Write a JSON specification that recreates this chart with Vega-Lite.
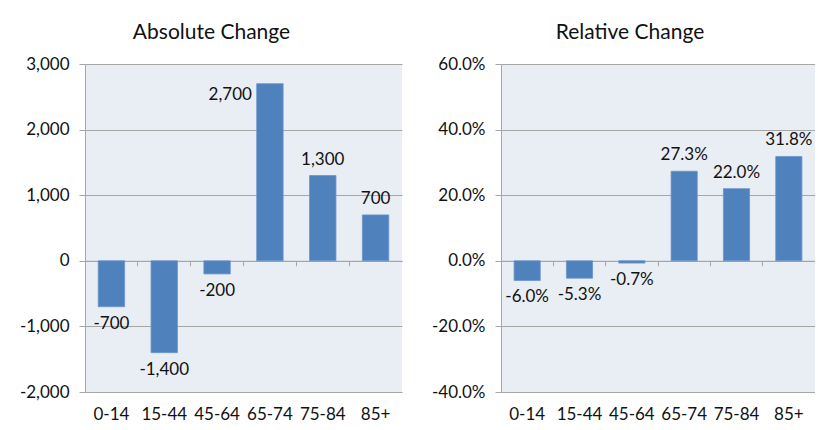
{
  "$schema": "https://vega.github.io/schema/vega-lite/v6.json",
  "autosize": {"type": "pad"},
  "padding": {"left": 19, "top": 22, "right": 0, "bottom": 0},
  "background": "white",
  "datasets": {
    "abs": [
      {"age": "0-14", "value": -700},
      {"age": "15-44", "value": -1400},
      {"age": "45-64", "value": -200},
      {"age": "65-74", "value": 2700},
      {"age": "75-84", "value": 1300},
      {"age": "85+", "value": 700}
    ],
    "rel": [
      {"age": "0-14", "value": -0.060},
      {"age": "15-44", "value": -0.053},
      {"age": "45-64", "value": -0.007},
      {"age": "65-74", "value": 0.273},
      {"age": "75-84", "value": 0.220},
      {"age": "85+", "value": 0.318}
    ]
  },
  "config": {
    "font": "Lato",
    "locale": {"number": {"decimal": ".", "thousands": ",", "grouping": [3], "currency": ["$", ""], "minus": "-"}},
    "view": {"fill": "#E9EDF4", "stroke": null},
    "axis": {
      "labelFont": "Lato",
      "labelFontSize": 17,
      "labelColor": "#111111",
      "domainColor": "#A6A6A6",
      "tickColor": "#A6A6A6",
      "gridColor": "#A6A6A6",
      "title": null
    },
    "text": {"font": "Lato", "fontSize": 17, "color": "#111111"},
    "title": {"font": "Lato", "fontSize": 21, "fontWeight": "normal", "color": "#111111", "anchor": "middle", "frame": "group"}
  },
  "bounds": "flush",
  "spacing": 99,
  "hconcat": [
    {
      "width": 317,
      "height": 328,
      "title": {"text": "Absolute Change", "dx": -32, "offset": 12},
      "data": {"name": "abs"},
      "resolve": {"axis": {"x": "independent"}},
      "layer": [
        {
          "mark": {"type": "bar", "width": {"band": 0.5}, "color": "#4F81BD", "stroke": "#6A95CC", "strokeWidth": 0.8},
          "encoding": {
            "x": {"field": "age", "type": "nominal", "sort": null, "scale": {"paddingInner": 0, "paddingOuter": 0}, "axis": {"orient": "bottom", "domain": false, "ticks": false, "labelPadding": 14, "labelAngle": 0}},
            "y": {"field": "value", "type": "quantitative", "scale": {"domain": [-2000, 3000], "nice": false}, "axis": {"values": [-2000, -1000, 0, 1000, 2000, 3000], "format": ",.0f", "tickSize": 6, "labelPadding": 10, "grid": true}}
          }
        },
        {
          "transform": [{"filter": "datum.value >= 0 && datum.value < 2500"}],
          "mark": {"type": "text", "baseline": "alphabetic", "dy": -11},
          "encoding": {
            "x": {"field": "age", "type": "nominal", "sort": null, "axis": {"orient": "bottom", "offset": -131.2, "labels": false, "tickSize": 5, "bandPosition": 0, "domain": true, "grid": false}},
            "y": {"field": "value", "type": "quantitative"},
            "text": {"field": "value", "type": "quantitative", "format": ",.0f"}
          }
        },
        {
          "transform": [{"filter": "datum.value >= 2500"}],
          "mark": {"type": "text", "baseline": "top", "align": "right", "dx": -18, "dy": 3},
          "encoding": {
            "x": {"field": "age", "type": "nominal", "sort": null, "axis": null},
            "y": {"field": "value", "type": "quantitative"},
            "text": {"field": "value", "type": "quantitative", "format": ",.0f"}
          }
        },
        {
          "transform": [{"filter": "datum.value < 0"}],
          "mark": {"type": "text", "baseline": "top", "dy": 9},
          "encoding": {
            "x": {"field": "age", "type": "nominal", "sort": null, "axis": null},
            "y": {"field": "value", "type": "quantitative"},
            "text": {"field": "value", "type": "quantitative", "format": ",.0f"}
          }
        }
      ]
    },
    {
      "width": 314,
      "height": 328,
      "title": {"text": "Relative Change", "dx": -28, "offset": 12},
      "data": {"name": "rel"},
      "resolve": {"axis": {"x": "independent"}},
      "layer": [
        {
          "mark": {"type": "bar", "width": {"band": 0.5}, "color": "#4F81BD", "stroke": "#6A95CC", "strokeWidth": 0.8},
          "encoding": {
            "x": {"field": "age", "type": "nominal", "sort": null, "scale": {"paddingInner": 0, "paddingOuter": 0}, "axis": {"orient": "bottom", "domain": false, "ticks": false, "labelPadding": 14, "labelAngle": 0}},
            "y": {"field": "value", "type": "quantitative", "scale": {"domain": [-0.4, 0.6], "nice": false}, "axis": {"values": [-0.4, -0.2, 0, 0.2, 0.4, 0.6], "format": ".1%", "tickSize": 6, "labelPadding": 10, "grid": true}}
          }
        },
        {
          "transform": [{"filter": "datum.value >= 0"}],
          "mark": {"type": "text", "baseline": "alphabetic", "dy": -11},
          "encoding": {
            "x": {"field": "age", "type": "nominal", "sort": null, "axis": {"orient": "bottom", "offset": -131.2, "labels": false, "tickSize": 5, "bandPosition": 0, "domain": true, "grid": false}},
            "y": {"field": "value", "type": "quantitative"},
            "text": {"field": "value", "type": "quantitative", "format": ".1%"}
          }
        },
        {
          "transform": [{"filter": "datum.value < 0"}],
          "mark": {"type": "text", "baseline": "top", "dy": 9},
          "encoding": {
            "x": {"field": "age", "type": "nominal", "sort": null, "axis": null},
            "y": {"field": "value", "type": "quantitative"},
            "text": {"field": "value", "type": "quantitative", "format": ".1%"}
          }
        }
      ]
    }
  ]
}
